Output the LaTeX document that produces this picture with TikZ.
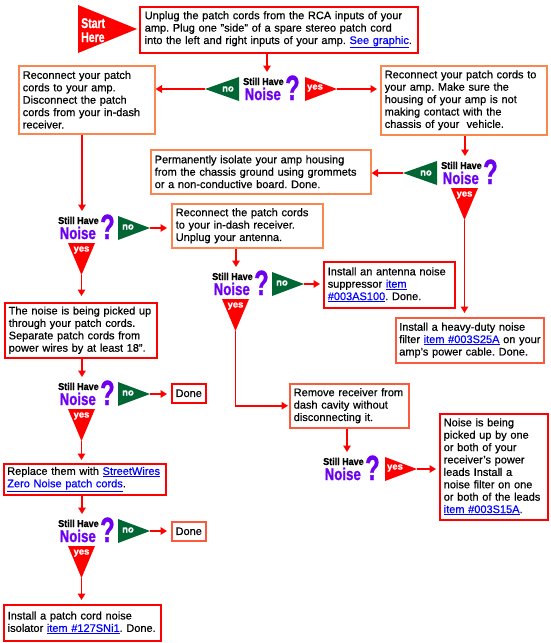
\documentclass[tikz,border=0pt]{standalone}
\usepackage{fontspec}
\setmainfont{Liberation Sans}[FakeBold=0.5]
\newfontfamily\heavy{Liberation Sans Bold}[FakeBold=1.2]
\usepackage{graphicx}
\usetikzlibrary{arrows.meta}
\frenchspacing
\definecolor{bred}{RGB}{255,0,0}
\definecolor{bor}{RGB}{250,135,80}
\definecolor{bmid}{RGB}{252,90,60}
\definecolor{dgreen}{RGB}{0,102,51}
\definecolor{purp}{RGB}{110,0,240}
\definecolor{lnk}{RGB}{0,0,255}
\newcommand{\lk}[1]{\textcolor{lnk}{\underline{#1}}}
\tikzset{
  bx/.style={draw, line width=1.5pt, anchor=north west, align=left, inner ysep=2pt,
    font=\frenchspacing\fontsize{11}{12.4}\selectfont},
  arr/.style={draw=bred, line width=1.5pt, -{Triangle[length=6.5pt,width=7.5pt]}},
  tl/.style={text=white, inner sep=0pt, font=\heavy\fontsize{9.5}{10}\selectfont},
}
\newcommand{\decision}[3]{%
  \node[anchor=base west, inner sep=0pt, font=\heavy\fontsize{10}{10}\selectfont] (#1-sh) at (#2,#3+7) {\scalebox{0.9}[1]{Still Have}};
  \node[anchor=base west, inner sep=0pt, text=purp, font=\heavy\fontsize{17}{17}\selectfont] (#1-n) at (#2+1.5,#3+22) {\scalebox{0.78}[1]{Noise}};
  \node[anchor=base west, inner sep=0pt, text=purp, font=\heavy\fontsize{35}{35}\selectfont] (#1-q) at (#2+42,#3+22) {\scalebox{0.68}[1]{?}};
  \coordinate (#1-in) at (#2+24,#3-6);}
\newcommand{\noleft}[3]{%
  \fill[dgreen] (#2-38,#3+11) -- (#2-4,#3-1) -- (#2-4,#3+23) -- cycle;
  \node[tl] (#1-nolab) at (#2-15,#3+11) {no};
  \coordinate (#1-no) at (#2-38,#3+11);}
\newcommand{\noright}[3]{%
  \fill[dgreen] (#2+60,#3-1) -- (#2+60,#3+23) -- (#2+92,#3+11) -- cycle;
  \node[tl] (#1-nolab) at (#2+70,#3+10) {no};
  \coordinate (#1-no) at (#2+92,#3+11);}
\newcommand{\yesright}[3]{%
  \fill[bred] (#2+62,#3-1) -- (#2+62,#3+23) -- (#2+94,#3+11) -- cycle;
  \node[tl] (#1-yeslab) at (#2+72,#3+10) {yes};
  \coordinate (#1-yes) at (#2+94,#3+11);}
\newcommand{\yesdown}[3]{%
  \fill[bred] (#2+10,#3+26) -- (#2+37,#3+26) -- (#2+23.5,#3+58) -- cycle;
  \node[tl] (#1-yeslab) at (#2+23.5,#3+33) {yes};
  \coordinate (#1-yes) at (#2+23.5,#3+58);}
\begin{document}
\begin{tikzpicture}[x=1pt,y=-1pt]
\useasboundingbox[fill=white] (0,0) rectangle (550,643);
% start
\fill[bred] (78,5) -- (78,53) -- (137,29) -- cycle;
\node[anchor=base west, inner sep=0pt, text=white, font=\heavy\fontsize{14}{14}\selectfont] (st1) at (81,28) {\scalebox{0.75}[1]{Start}};
\node[anchor=base west, inner sep=0pt, text=white, font=\heavy\fontsize{14}{14}\selectfont] (st2) at (81,42) {\scalebox{0.75}[1]{Here}};
% boxes
\node[bx, draw=bred, inner xsep=5pt, text width=268pt, minimum height=46pt] (b1) at (139,6)
 {Unplug the patch cords from the RCA inputs of your\\amp. Plug one "side" of a spare stereo patch cord\\into the left and right inputs of your amp. \lk{See graphic}.};
\node[bx, draw=bor, inner xsep=4pt, text width=128pt, minimum height=68pt] (b2) at (18,65)
 {Reconnect your patch\\cords to your amp.\\Disconnect the patch\\cords from your in-dash\\receiver.};
\node[bx, draw=bor, inner xsep=4pt, text width=158pt, minimum height=69pt] (b3) at (380,65)
 {Reconnect your patch cords to\\your amp. Make sure the\\housing of your amp is not\\making contact with the\\chassis of your\ \ vehicle.};
\node[bx, draw=bor, inner xsep=4pt, text width=212pt, minimum height=44pt] (b4) at (150,149)
 {Permanently isolate your amp housing\\from the chassis ground using grommets\\or a non-conductive board. Done.};
\node[bx, draw=bor, inner xsep=4pt, text width=143pt, minimum height=44pt] (b5) at (171,203)
 {Reconnect the patch cords\\to your in-dash receiver.\\Unplug your antenna.};
\node[bx, draw=bred, inner xsep=4pt, text width=123pt, minimum height=46pt] (b6) at (323,261)
 {Install an antenna noise\\suppressor \lk{item}\\\lk{\#003AS100}. Done.};
\node[bx, draw=bmid, inner xsep=3.5pt, text width=141pt, minimum height=45pt] (b7) at (395,317)
 {Install a heavy-duty noise\\\mbox{filter \lk{item \#003S25A} on your}\\amp's power cable. Done.};
\node[bx, draw=bmid, inner xsep=4pt, text width=111pt, minimum height=44pt] (b8) at (289,383)
 {Remove receiver from\\dash cavity without\\disconnecting it.};
\node[bx, draw=bred, inner xsep=4pt, text width=100pt, minimum height=106pt] (b9) at (439,413)
 {Noise is being\\picked up by one\\or both of your\\receiver's power\\leads Install a\\noise filter on one\\or both of the leads\\\lk{item \#003S15A}.};
\node[bx, draw=bred, inner xsep=4pt, text width=144pt, minimum height=55pt] (b10) at (4,302)
 {The noise is being picked up\\through your patch cords.\\Separate patch cords from\\power wires by at least 18".};
\node[bx, draw=bred, inner xsep=3.5pt, text width=155pt, minimum height=31pt] (b11) at (3,463)
 {\mbox{Replace them with \lk{StreetWires}}\\\lk{Zero Noise patch cords}.};
\node[bx, draw=bred, inner xsep=4pt, text width=149pt, minimum height=36pt] (b12) at (3,604)
 {Install a patch cord noise\\\mbox{isolator \lk{item \#127SNi1}. Done.}};
\node[bx, draw=bred, align=center, inner xsep=3pt, text width=28pt, minimum height=19pt] (done6) at (171,383) {Done};
\node[bx, draw=bmid, align=center, inner xsep=3pt, text width=28pt, minimum height=19pt] (done7) at (171,521) {Done};
% decisions
\decision{d1}{243}{78} \noleft{d1}{243}{78} \yesright{d1}{243}{78}
\decision{d2}{441}{162} \noleft{d2}{441}{162} \yesdown{d2}{441}{162}
\decision{d3}{58}{217} \noright{d3}{58}{217} \yesdown{d3}{58}{217}
\decision{d4}{212}{273} \noright{d4}{212}{273} \yesdown{d4}{212}{273}
\decision{d5}{323}{458} \yesright{d5}{323}{458}
\decision{d6}{58}{383} \noright{d6}{58}{383} \yesdown{d6}{58}{383}
\decision{d7}{58}{520} \noright{d7}{58}{520} \yesdown{d7}{58}{520}
% connectors
\draw[arr] (b1.south -| d1-in) -- (d1-in);
\draw[arr] (d1-no) -- (d1-no -| b2.east);
\draw[arr, shorten >=3pt] (d1-yes) -- (d1-yes -| b3.west);
\draw[arr] (b3.south -| d2-in) -- (d2-in);
\draw[arr] (d2-no) -- (d2-no -| b4.east);
\draw[arr, shorten >=4pt] (d2-yes) -- (d2-yes |- b7.north);
\draw[arr] (b2.south -| d3-in) -- (d3-in);
\draw[arr, shorten >=4pt] (d3-no) -- (d3-no -| b5.west);
\draw[arr, shorten >=6pt] (d3-yes) -- (d3-yes |- b10.north);
\draw[arr] (b5.south -| d4-in) -- (d4-in);
\draw[arr, shorten >=3pt] (d4-no) -- (d4-no -| b6.west);
\draw[arr, shorten >=1pt] (d4-yes) |- (b8.west);
\draw[arr] (b8.south -| d5-in) -- (d5-in);
\draw[arr, shorten >=3pt] (d5-yes) -- (d5-yes -| b9.west);
\draw[arr] (b10.south -| d6-in) -- (d6-in);
\draw[arr, shorten >=4pt] (d6-no) -- (d6-no -| done6.west);
\draw[arr, shorten >=3pt] (d6-yes) -- (d6-yes |- b11.north);
\draw[arr] (b11.south -| d7-in) -- (d7-in);
\draw[arr, shorten >=4pt] (d7-no) -- (d7-no -| done7.west);
\draw[arr, shorten >=4pt] (d7-yes) -- (d7-yes |- b12.north);
\end{tikzpicture}
\end{document}
